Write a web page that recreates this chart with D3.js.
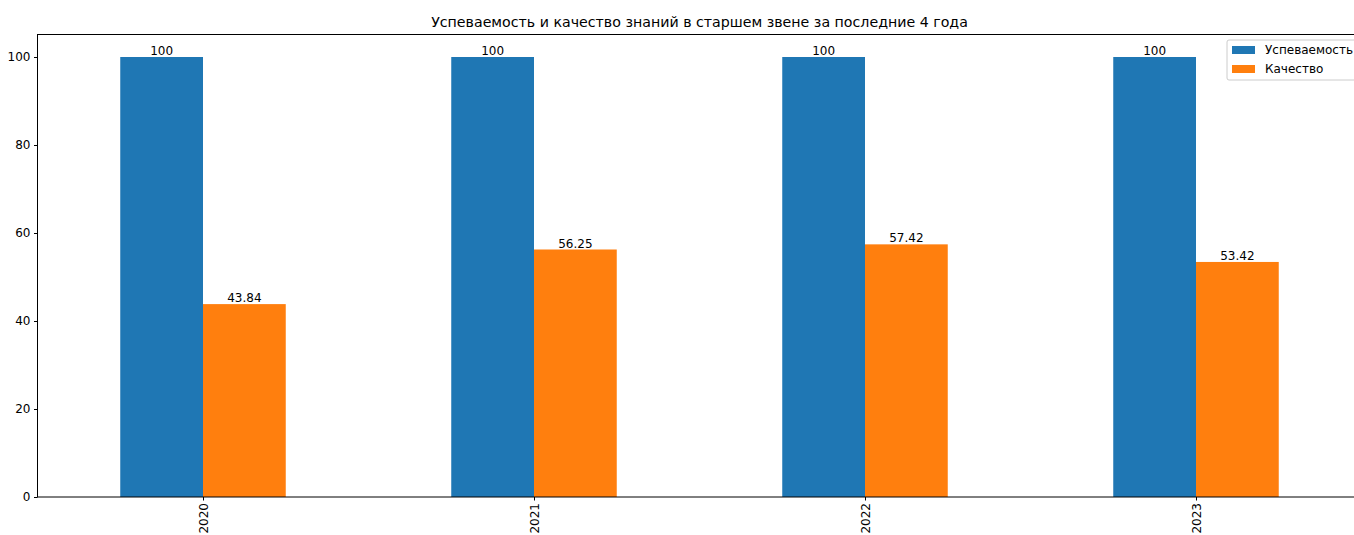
<!DOCTYPE html>
<html><head><meta charset="utf-8">
<script src="https://cdn.jsdelivr.net/npm/d3@7"></script>
<style>body{margin:0;background:#fff;} svg{display:block;font-family:"DejaVu Sans",sans-serif;}</style>
</head><body>
<svg id="c" width="1354" height="535"></svg>
<script>
const years = ["2020","2021","2022","2023"];
const seriesNames = ["Успеваемость","Качество"];
const uspevaemost = [100,100,100,100];
const kachestvo = [43.84,56.25,57.42,53.42];
const yTicks = [0,20,40,60,80,100];
const colors = ["#1f77b4","#ff7f0e"];
const labelsU = ["100","100","100","100"];
const labelsK = ["43.84","56.25","57.42","53.42"];

const svg = d3.select("#c");
const L = 37.5, R = 1361.5, T = 34.5, B = 497;
const x = d3.scaleLinear().domain([-0.5, 3.5]).range([L, R]);
const y = d3.scaleLinear().domain([0, 105]).range([B, B - 105*4.4]);
const bw = 0.25;

const series = [uspevaemost, kachestvo];
const labels = [labelsU, labelsK];
series.forEach((vals, s) => {
  const off = s === 0 ? -bw : 0;
  svg.append("g").selectAll("rect").data(vals).join("rect")
    .attr("x", (d,i) => x(i + off))
    .attr("width", x(bw) - x(0))
    .attr("y", d => y(d))
    .attr("height", d => y(0) - y(d))
    .attr("fill", colors[s]);
  svg.append("g").selectAll("text").data(vals).join("text")
    .attr("x", (d,i) => x(i + off + bw/2))
    .attr("y", d => y(d) - 2)
    .attr("text-anchor","middle")
    .attr("font-size","12px")
    .attr("fill","#000")
    .text((d,i) => labels[s][i]);
});

// axes
const yAxis = d3.axisLeft(y).tickValues(yTicks).tickSize(3.5).tickPadding(3.5).tickFormat(d3.format("d"));
const gy = svg.append("g").attr("transform",`translate(${L},0)`).call(yAxis);
gy.select(".domain").remove();
gy.selectAll("text").attr("font-size","12px").attr("font-family","DejaVu Sans").attr("fill","#000");
gy.selectAll("line").attr("stroke","#000");

const xAxis = d3.axisBottom(x).tickValues([0,1,2,3]).tickSize(3.5).tickFormat(i => years[i]);
const gx = svg.append("g").attr("transform",`translate(0,${B})`).call(xAxis);
gx.select(".domain").remove();
gx.selectAll("line").attr("stroke","#000");
gx.selectAll("text").attr("font-size","12px").attr("font-family","DejaVu Sans").attr("fill","#000")
  .attr("transform","rotate(-90)").attr("text-anchor","end").attr("dy","0.35em").attr("x",-6).attr("y",0);

// spines
svg.append("rect").attr("x",L).attr("y",T).attr("width",R-L).attr("height",B-T)
  .attr("fill","none").attr("stroke","#000").attr("stroke-width",1);

// title
svg.append("text").attr("x",(L+R)/2).attr("y",27).attr("text-anchor","middle")
  .attr("font-size","14.2px").attr("fill","#000")
  .text("Успеваемость и качество знаний в старшем звене за последние 4 года");

// legend
const lg = svg.append("g").attr("transform","translate(1227,40)");
lg.append("rect").attr("x",0).attr("y",0).attr("width",140).attr("height",40).attr("rx",2)
  .attr("fill","#fff").attr("fill-opacity",0.8).attr("stroke","#ccc");
seriesNames.forEach((n,i) => {
  lg.append("rect").attr("x",5).attr("y",6 + i*19).attr("width",23).attr("height",8).attr("fill",colors[i]);
  lg.append("text").attr("x",38).attr("y",14 + i*19).attr("font-size","12px").attr("fill","#000").text(n);
});
</script>
</body></html>
